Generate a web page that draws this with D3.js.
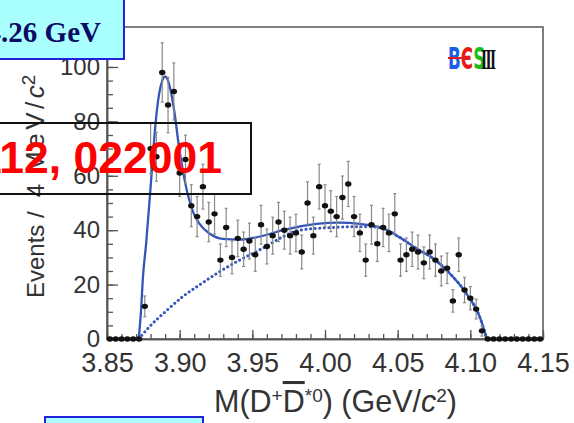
<!DOCTYPE html>
<html>
<head>
<meta charset="utf-8">
<script src="https://cdn.jsdelivr.net/npm/d3@7"></script>
<style>
  body { margin: 0; background: #fff; }
  svg { display: block; font-family: "Liberation Sans", Arial, sans-serif; }
</style>
</head>
<body>
<svg id="chart" width="574" height="423"></svg>
<script>
// binning of the histogram (4 MeV bins starting at 3.85)
const binLow = 3.85;
const binWidth = 0.004;

// events per bin
const counts = [
  0, 0, 0, 0, 0, 0, 12, 70, 67, 98,
  86, 91, 61, 66, 49, 45, 56, 43, 46, 29,
  41, 30, 37, 33, 36, 31, 42, 34, 38, 43,
  40, 38, 39, 32, 50, 38, 56, 49, 47, 45,
  52, 57, 45, 39, 29, 42, 35, 41, 39, 46,
  29, 31, 33, 32, 28, 32, 29, 25, 26, 14,
  31, 18, 15, 11, 3, 0, 0, 0, 0, 0,
  0, 0, 0, 0, 0
];

// total fit (solid) as [mass, events]
const fitTotal = [
  [3.8718, 0], [3.8736, 12], [3.8746, 21.7], [3.8769, 35], [3.8793, 51],
  [3.8810, 63], [3.8827, 75], [3.8850, 87], [3.8872, 93.5], [3.8901, 96.5],
  [3.8923, 94.5], [3.8937, 91.5], [3.8965, 83], [3.8992, 72], [3.9022, 62],
  [3.9052, 54], [3.9090, 47], [3.9137, 42.3], [3.9205, 38.8], [3.9297, 36.8],
  [3.9412, 36.5], [3.9522, 37.3], [3.9618, 38.6], [3.9710, 40], [3.9940, 42.3],
  [4.0100, 42.8], [4.0238, 42.3], [4.0398, 40.7], [4.0513, 37.4], [4.0628, 33.3],
  [4.0742, 29.7], [4.0857, 24.2], [4.0972, 16.8], [4.1064, 8.2], [4.1114, 0]
];

// background part of the fit (dotted)
const fitBackground = [
  [3.8718, 0], [3.8792, 4.5], [3.8907, 10.3], [3.9022, 15.6], [3.9137, 19.9],
  [3.9274, 24.7], [3.9412, 29], [3.9527, 32.1], [3.9618, 34.8], [3.9710, 37.6],
  [3.9825, 40], [4.0054, 41], [4.0238, 41.3], [4.0330, 41.2], [4.0398, 40.6],
  [4.0513, 37.4], [4.0628, 33.3], [4.0742, 29.7], [4.0857, 24.2], [4.0972, 16.8],
  [4.1064, 8.2], [4.1114, 0]
];

const xTicks = [3.85, 3.90, 3.95, 4.00, 4.05, 4.10, 4.15];
const xMinorTicks = d3.range(3.85, 4.1501, 0.01);
const yTicks = [0, 20, 40, 60, 80, 100];
const yMinorTicks = d3.range(0, 115, 5);

const svg = d3.select('#chart');
const margin = { left: 107, right: 31, top: 27, bottom: 84 };
const width = 574 - margin.left - margin.right;
const height = 423 - margin.top - margin.bottom;

const x = d3.scaleLinear().domain([3.85, 4.15]).range([0, width]);
const y = d3.scaleLinear().domain([0, 114.7]).range([height, 0]);

const g = svg.append('g').attr('transform', `translate(${margin.left},${margin.top})`);

const axisColor = '#555';
const textColor = '#333';
const blue = '#3556b8';

// frame
g.append('rect')
  .attr('width', width).attr('height', height)
  .attr('fill', 'none').attr('stroke', axisColor).attr('stroke-width', 1.5);

// minor ticks
g.append('g')
  .attr('transform', `translate(0,${height})`)
  .call(d3.axisBottom(x).tickValues(xMinorTicks).tickSize(-5).tickSizeOuter(0).tickFormat(''));
g.append('g')
  .call(d3.axisLeft(y).tickValues(yMinorTicks).tickSize(-6).tickSizeOuter(0).tickFormat(''));

// major ticks
const xAxis = g.append('g')
  .attr('transform', `translate(0,${height})`)
  .call(d3.axisBottom(x).tickValues(xTicks).tickSize(-9).tickSizeOuter(0).tickPadding(14)
    .tickFormat(d3.format('.2f')));
const yAxis = g.append('g')
  .call(d3.axisLeft(y).tickValues(yTicks).tickSize(-11).tickSizeOuter(0).tickPadding(7));

g.selectAll('.domain').attr('stroke', axisColor).attr('stroke-width', 1.5);
g.selectAll('.tick line').attr('stroke', axisColor).attr('stroke-width', 1.3);
xAxis.selectAll('text').attr('font-size', 27).attr('fill', textColor)
  .attr('font-family', '"Liberation Sans", Arial, sans-serif');
yAxis.selectAll('text').attr('font-size', 24).attr('fill', textColor)
  .attr('font-family', '"Liberation Sans", Arial, sans-serif');

// fit curves
const line = d3.line()
  .x(d => x(d[0]))
  .y(d => y(d[1]))
  .curve(d3.curveMonotoneX);

g.append('path')
  .datum(fitBackground)
  .attr('fill', 'none')
  .attr('stroke', blue)
  .attr('stroke-width', 3)
  .attr('stroke-dasharray', '0.1,4.5')
  .attr('stroke-linecap', 'round')
  .attr('d', line);

g.append('path')
  .datum(fitTotal)
  .attr('fill', 'none')
  .attr('stroke', blue)
  .attr('stroke-width', 2.3)
  .attr('d', line);

// data points with poisson errors
const points = counts.map((n, i) => ({ m: binLow + binWidth * (i + 0.5), n: n }));

const bars = g.append('g').attr('stroke', '#8a8a8a').attr('stroke-width', 1.2);
points.filter(p => p.n > 0).forEach(p => {
  const e = 1.1 * Math.sqrt(p.n);
  const px = x(p.m);
  bars.append('line').attr('x1', px).attr('x2', px).attr('y1', y(p.n + e)).attr('y2', y(p.n - e));
  bars.append('line').attr('x1', px - 1.5).attr('x2', px + 1.5).attr('y1', y(p.n + e)).attr('y2', y(p.n + e));
  bars.append('line').attr('x1', px - 1.5).attr('x2', px + 1.5).attr('y1', y(p.n - e)).attr('y2', y(p.n - e));
});

g.append('g').selectAll('ellipse')
  .data(points)
  .join('ellipse')
  .attr('cx', d => x(d.m))
  .attr('cy', d => y(d.n))
  .attr('rx', 3.2)
  .attr('ry', 2.7)
  .attr('fill', '#111');

// axis titles
const yTitle = svg.append('text')
  .attr('transform', 'translate(44,298) rotate(-90)')
  .attr('font-size', 24)
  .attr('fill', textColor);
yTitle.append('tspan').text('Events /');
yTitle.append('tspan').attr('dx', 14).text('4');
yTitle.append('tspan').attr('dx', 11).attr('font-size', 26).attr('letter-spacing', 3.5).text('MeV/');
yTitle.append('tspan').attr('font-style', 'italic').attr('font-size', 26).text('c');
yTitle.append('tspan').attr('font-size', 19).attr('baseline-shift', '45%').text('2');

const xTitle = svg.append('text')
  .attr('x', 214).attr('y', 412)
  .attr('font-size', 30.5)
  .attr('fill', textColor);
xTitle.append('tspan').text('M(D');
xTitle.append('tspan').attr('font-size', 19).attr('baseline-shift', '55%').text('+');
xTitle.append('tspan').attr('text-decoration', 'overline').text('D');
xTitle.append('tspan').attr('font-size', 19).attr('baseline-shift', '55%').text('*0');
xTitle.append('tspan').text(') (GeV/');
xTitle.append('tspan').attr('font-style', 'italic').text('c');
xTitle.append('tspan').attr('font-size', 19).attr('baseline-shift', '55%').text('2');
xTitle.append('tspan').text(')');

// BESIII logo
const logo = svg.append('text')
  .attr('transform', 'translate(448,69) scale(0.56,1)')
  .attr('font-size', 30)
  .attr('font-weight', 'bold')
  .attr('font-family', '"DejaVu Sans", sans-serif');
logo.append('tspan').attr('fill', '#1a5ee8').text('B');
logo.append('tspan').attr('fill', '#e81818').text('Є');
logo.append('tspan').attr('fill', '#18c018').text('S');
svg.append('text')
  .attr('transform', 'translate(481,69) scale(0.52,1)')
  .attr('font-size', 30)
  .attr('font-weight', 'bold')
  .attr('letter-spacing', -3)
  .attr('font-family', '"Liberation Serif", serif')
  .attr('fill', '#111')
  .text('III');
svg.append('line')
  .attr('x1', 448).attr('x2', 464).attr('y1', 58).attr('y2', 58)
  .attr('stroke', '#e81818').attr('stroke-width', 2);

// overlay boxes
svg.append('rect')
  .attr('x', -3).attr('y', -3).attr('width', 127).attr('height', 62)
  .attr('fill', '#aaffff').attr('stroke', '#2222dd').attr('stroke-width', 2);
svg.append('text')
  .attr('x', 101).attr('y', 42)
  .attr('text-anchor', 'end')
  .attr('font-family', '"Liberation Serif", "Times New Roman", serif')
  .attr('font-weight', 'bold')
  .attr('font-size', 29)
  .attr('fill', '#0c0c66')
  .text('√s = 4.26 GeV');

svg.append('rect')
  .attr('x', -3).attr('y', 123).attr('width', 254).attr('height', 71)
  .attr('fill', 'none').attr('stroke', '#111').attr('stroke-width', 2);
svg.append('text')
  .attr('x', 222).attr('y', 173)
  .attr('text-anchor', 'end')
  .attr('font-weight', 'bold')
  .attr('font-size', 44.5)
  .attr('fill', '#ff0000')
  .text('PRL 112, 022001');

svg.append('rect')
  .attr('x', 45).attr('y', 417).attr('width', 158).attr('height', 20)
  .attr('fill', '#aaffff').attr('stroke', '#2222dd').attr('stroke-width', 2);
</script>
</body>
</html>
